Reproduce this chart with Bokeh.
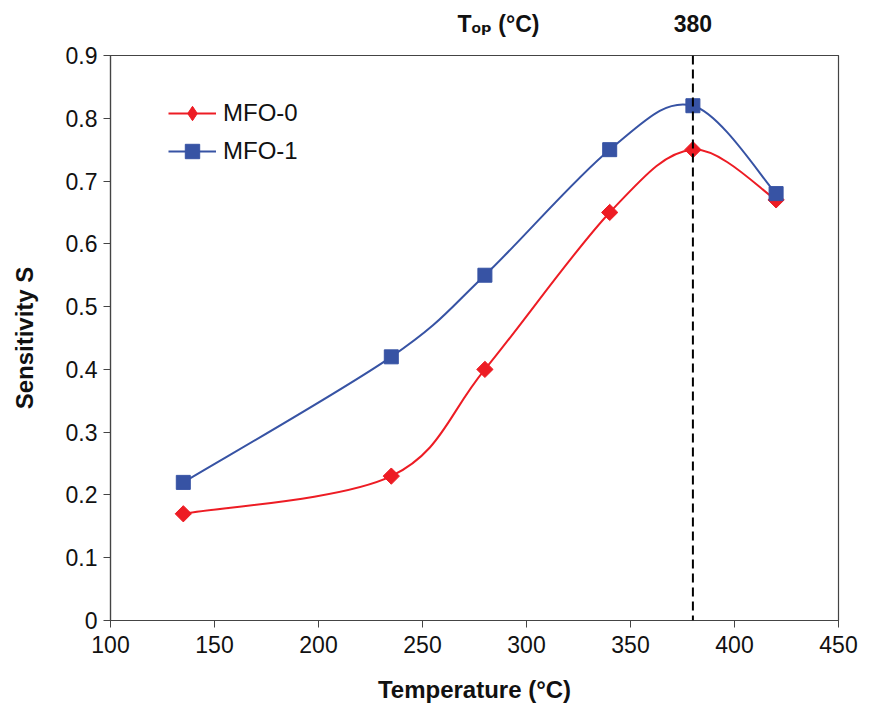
import math
from bokeh.plotting import figure
from bokeh.models import (LinearAxis, FixedTicker, Range1d, Span, Legend, LegendItem, ColumnDataSource)
from bokeh.embed import file_html
from bokeh.resources import INLINE

# ---- data ----
temperature = [135, 235, 280, 340, 380, 420]
mfo0 = [0.17, 0.23, 0.40, 0.65, 0.75, 0.67]
mfo1 = [0.22, 0.42, 0.55, 0.75, 0.82, 0.68]
series_names = ["MFO-0", "MFO-1"]
x_ticks = [100, 150, 200, 250, 300, 350, 400, 450]
y_ticks = [0, 0.1, 0.2, 0.3, 0.4, 0.5, 0.6, 0.7, 0.8, 0.9]
t_op = 380
top_title = "T\u2092\u209a (°C)"
top_title_pos = 286.5  # where the title sits along the top axis

RED = "#ED1C24"
BLUE = "#3753A4"
AXIS = "#444444"
TXT = "#111111"
FONT = "Liberation Sans"


def bezier_segments(xs, ys):
    """Smoothed (Catmull-Rom style) control points between consecutive points."""
    n = len(xs)
    d = dict(x0=[], y0=[], x1=[], y1=[], cx0=[], cy0=[], cx1=[], cy1=[])
    for i in range(n - 1):
        xm, ym = (xs[i - 1], ys[i - 1]) if i > 0 else (xs[i], ys[i])
        xp, yp = (xs[i + 2], ys[i + 2]) if i + 2 < n else (xs[i + 1], ys[i + 1])
        d["x0"].append(xs[i]); d["y0"].append(ys[i])
        d["x1"].append(xs[i + 1]); d["y1"].append(ys[i + 1])
        d["cx0"].append(xs[i] + (xs[i + 1] - xm) / 6.0)
        d["cy0"].append(ys[i] + (ys[i + 1] - ym) / 6.0)
        d["cx1"].append(xs[i + 1] - (xp - xs[i]) / 6.0)
        d["cy1"].append(ys[i + 1] - (yp - ys[i]) / 6.0)
    return ColumnDataSource(d)


p = figure(width=862, height=707, output_backend="svg", toolbar_location=None,
           x_range=Range1d(100, 450), y_range=Range1d(0, 0.9),
           min_border_left=110, min_border_right=24, min_border_top=55, min_border_bottom=87)
p.grid.visible = False
p.outline_line_color = AXIS
p.outline_line_width = 1.2
p.background_fill_color = "white"
p.border_fill_color = "white"

# axes
p.xaxis.ticker = FixedTicker(ticks=x_ticks)
p.yaxis.ticker = FixedTicker(ticks=y_ticks)
p.yaxis.major_label_overrides = {0: "0"}
for ax in (p.xaxis[0], p.yaxis[0]):
    ax.axis_line_color = AXIS
    ax.axis_line_width = 1.2
    ax.major_tick_line_color = AXIS
    ax.major_tick_in = 0
    ax.major_tick_out = 7
    ax.minor_tick_line_color = None
    ax.major_label_text_font = FONT
    ax.major_label_text_font_size = "23px"
    ax.major_label_text_color = TXT
    ax.axis_label_text_font = FONT
    ax.axis_label_text_font_size = "24px"
    ax.axis_label_text_font_style = "bold"
    ax.axis_label_text_color = TXT
p.xaxis.axis_label = "Temperature (°C)"
p.yaxis.axis_label = "Sensitivity S"
p.xaxis.major_label_standoff = 8
p.xaxis.axis_label_standoff = 20
p.yaxis.major_label_standoff = 6
p.yaxis.axis_label_standoff = 25

# top axis: carries the "380" mark and the T_op title on the same row
top = LinearAxis(ticker=FixedTicker(ticks=[top_title_pos, t_op]),
                 major_label_overrides={top_title_pos: top_title, t_op: str(t_op)})
top.axis_line_color = AXIS
top.axis_line_width = 1.2
top.major_tick_line_color = None
top.minor_tick_line_color = None
top.major_label_text_font = FONT + ", DejaVu Sans"
top.major_label_text_font_size = "23px"
top.major_label_text_font_style = "bold"
top.major_label_text_color = TXT
top.major_label_standoff = 13
p.add_layout(top, "above")

# vertical dashed line at T_op
p.add_layout(Span(location=t_op, dimension="height", line_color="black",
                  line_dash="9 5", line_width=2))

# curves
src0 = bezier_segments(temperature, mfo0)
src1 = bezier_segments(temperature, mfo1)
b0 = p.bezier(x0="x0", y0="y0", x1="x1", y1="y1", cx0="cx0", cy0="cy0", cx1="cx1", cy1="cy1",
              source=src0, line_color=RED, line_width=2)
b1 = p.bezier(x0="x0", y0="y0", x1="x1", y1="y1", cx0="cx0", cy0="cy0", cx1="cx1", cy1="cy1",
              source=src1, line_color=BLUE, line_width=2)
# tiny diamond layer (hidden beneath the real markers) that supplies the legend glyph
d0 = p.scatter(temperature, mfo0, marker="diamond", size=1, fill_color=RED, line_color=RED)
s0 = p.scatter(temperature, mfo0, marker="square", angle=math.pi / 4, size=11.5,
               fill_color=RED, line_color=RED)
s1 = p.scatter(temperature, mfo1, marker="square", size=14, fill_color=BLUE, line_color=BLUE)

legend = Legend(items=[LegendItem(label=series_names[0], renderers=[b0, d0]),
                       LegendItem(label=series_names[1], renderers=[b1, s1])],
                location=(58, 451))
legend.border_line_color = None
legend.background_fill_alpha = 0
legend.label_text_font = FONT
legend.label_text_font_size = "24px"
legend.label_text_color = TXT
legend.glyph_width = 48
legend.glyph_height = 36
legend.label_height = 36
legend.spacing = 2
legend.margin = 0
legend.padding = 0
legend.label_standoff = 7
p.add_layout(legend)

open("out.html", "w").write(file_html(p, INLINE))
